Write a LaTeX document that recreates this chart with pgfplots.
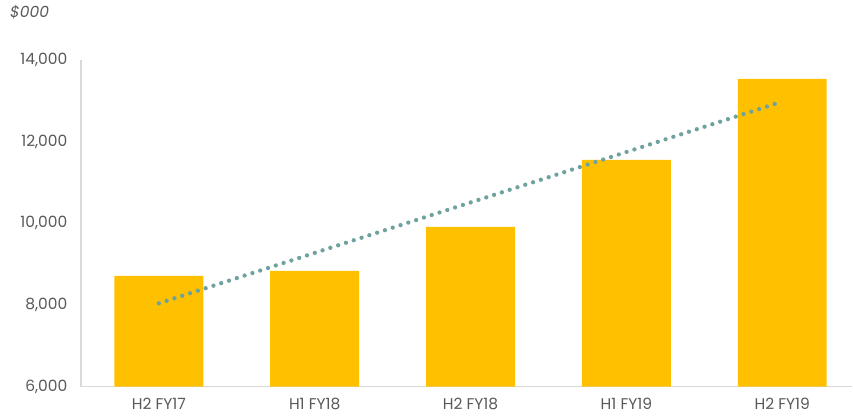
\documentclass[border=0pt]{standalone}
\usepackage{pgfplots}
\pgfplotsset{compat=1.18}
\usepackage{fontspec}
\setmainfont{Poppins}
\usetikzlibrary{calc}

\definecolor{baryellow}{RGB}{255,192,0}
\definecolor{trendteal}{RGB}{110,162,159}
\definecolor{labelgray}{RGB}{89,89,89}
\definecolor{axisgray}{RGB}{217,217,217}

\begin{document}
\begin{tikzpicture}
\begin{axis}[
    scale only axis,
    width=772pt, height=327pt,
    xmin=-0.5, xmax=4.45,
    ymin=6000, ymax=14000,
    ytick={6000,8000,10000,12000,14000},
    xtick={0,1,2,3,4},
    xticklabels={H2 FY17, H1 FY18, H2 FY18, H1 FY19, H2 FY19},
    scaled y ticks=false,
    /pgf/number format/assume math mode=true,
    /pgf/number format/1000 sep={,},
    axis x line*=bottom,
    axis y line*=left,
    axis line style={axisgray, line width=1.3pt},
    major tick length=0pt,
    tick style={draw=none},
    ticklabel style={font=\fontsize{15.5}{18}\selectfont, text=labelgray},
    yticklabel style={xshift=-10pt},
    xticklabel style={yshift=-8pt},
    clip=false,
]
\addplot[ybar, bar width=89pt, fill=baryellow, draw=none]
    coordinates {(0,8716)(1,8838)(2,9914)(3,11554)(4,13535)};
\addplot[trendteal, line width=4.3pt, line cap=round, dash pattern=on 0pt off 8.2pt]
    coordinates {(0,8041)(4,12981)};
\end{axis}
\node[anchor=north west, inner sep=0pt, text=labelgray, font=\fontsize{15.5}{18}\selectfont\itshape]
    at ($(current axis.north west)+(-71pt,55pt)$) {\$000};
\path[use as bounding box] ($(current axis.south west)+(-81pt,-29pt)$) rectangle ($(current axis.north west)+(772pt,60pt)$);
\end{tikzpicture}
\end{document}
